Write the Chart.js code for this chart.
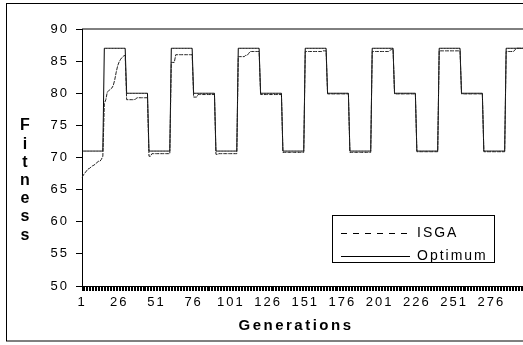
<!DOCTYPE html>
<html>
<head>
<meta charset="utf-8">
<script src="https://cdn.jsdelivr.net/npm/chart.js@4"></script>
<style>
html, body { margin: 0; padding: 0; background: #fff; overflow: hidden; }
#wrap { width: 540px; height: 345px; }
</style>
</head>
<body>
<div id="wrap"><canvas id="fitnessChart"></canvas></div>
<script>
// generations 1..300, labelled every 25
const generations = Array.from({ length: 300 }, (_, i) => i + 1);
const tickLabels = [1, 26, 51, 76, 101, 126, 151, 176, 201, 226, 251, 276];

const optimum = [
  71,71,71,71,71,71,71,71,71,71,71,71,71,71,71,
  87,87,87,87,87,87,87,87,87,87,87,87,87,87,87,
  80,80,80,80,80,80,80,80,80,80,80,80,80,80,80,
  71,71,71,71,71,71,71,71,71,71,71,71,71,71,71,
  87,87,87,87,87,87,87,87,87,87,87,87,87,87,87,
  80,80,80,80,80,80,80,80,80,80,80,80,80,80,80,
  71,71,71,71,71,71,71,71,71,71,71,71,71,71,71,
  87,87,87,87,87,87,87,87,87,87,87,87,87,87,87,
  80,80,80,80,80,80,80,80,80,80,80,80,80,80,80,
  71,71,71,71,71,71,71,71,71,71,71,71,71,71,71,
  87,87,87,87,87,87,87,87,87,87,87,87,87,87,87,
  80,80,80,80,80,80,80,80,80,80,80,80,80,80,80,
  71,71,71,71,71,71,71,71,71,71,71,71,71,71,71,
  87,87,87,87,87,87,87,87,87,87,87,87,87,87,87,
  80,80,80,80,80,80,80,80,80,80,80,80,80,80,80,
  71,71,71,71,71,71,71,71,71,71,71,71,71,71,71,
  87,87,87,87,87,87,87,87,87,87,87,87,87,87,87,
  80,80,80,80,80,80,80,80,80,80,80,80,80,80,80,
  71,71,71,71,71,71,71,71,71,71,71,71,71,71,71,
  87,87,87,87,87,87,87,87,87,87,87,87,87,87,87
];

const isga = [
  66.9,67.3,67.6,67.9,68.2,68.3,68.5,68.7,68.8,69.0,69.2,69.4,69.4,69.7,70.2,
  78.4,79.0,80.2,80.4,80.6,80.8,81.2,82.1,83.3,84.3,84.9,85.3,85.6,85.8,85.9,
  79.0,79.0,79.0,79.0,79.0,79.0,79.1,79.3,79.3,79.3,79.3,79.3,79.3,79.3,79.3,
  70.2,70.2,70.6,70.6,70.6,70.6,70.6,70.6,70.6,70.6,70.6,70.6,70.6,70.6,70.6,
  84.8,84.8,84.8,86.0,86.0,86.0,86.0,86.0,86.0,86.0,86.0,86.0,86.0,86.0,86.0,
  79.4,79.4,79.4,79.8,79.8,79.8,79.8,79.8,79.8,79.8,79.8,79.8,79.8,79.8,79.8,
  70.5,70.5,70.6,70.6,70.6,70.6,70.6,70.6,70.6,70.6,70.6,70.6,70.6,70.6,70.6,
  85.7,85.7,85.7,85.7,85.7,85.9,85.9,86.2,86.5,86.5,86.5,86.5,86.5,86.5,86.5,
  79.8,79.8,79.8,79.8,79.8,79.8,79.8,79.8,79.8,79.8,79.8,79.8,79.8,79.8,79.8,
  70.8,70.8,70.8,70.8,70.8,70.8,70.8,70.8,70.8,70.8,70.8,70.8,70.8,70.8,70.8,
  86.5,86.5,86.5,86.5,86.5,86.5,86.5,86.5,86.5,86.5,86.5,86.5,86.6,86.6,86.6,
  79.9,79.9,79.9,79.9,79.9,79.9,79.9,79.9,79.9,79.9,79.9,79.9,79.9,79.9,79.9,
  70.8,70.8,70.8,70.8,70.8,70.8,70.8,70.8,70.8,70.8,70.8,70.8,70.8,70.8,70.8,
  86.5,86.5,86.5,86.5,86.5,86.5,86.5,86.5,86.5,86.5,86.5,86.5,86.7,86.8,86.9,
  79.9,79.9,79.9,79.9,79.9,79.9,79.9,79.9,79.9,79.9,79.9,79.9,79.9,79.9,79.9,
  70.9,70.9,70.9,70.9,70.9,70.9,70.9,70.9,70.9,70.9,70.9,70.9,70.9,70.9,70.9,
  86.6,86.6,86.6,86.6,86.6,86.6,86.6,86.6,86.6,86.6,86.6,86.6,86.6,86.6,86.6,
  79.9,79.9,79.9,79.9,79.9,79.9,79.9,79.9,79.9,79.9,79.9,79.9,79.9,79.9,79.9,
  70.9,70.9,70.9,70.9,70.9,70.9,70.9,70.9,70.9,70.9,70.9,70.9,70.9,70.9,70.9,
  86.5,86.5,86.5,86.5,86.5,86.5,86.8,87.0,87.0,87.0,87.0,87.0,87.0,87.0,87.0
];

const FONT = "'Liberation Sans', Arial, sans-serif";

// frame, plot border, axis titles and legend placement
const excelLook = {
  id: 'excelLook',
  beforeDraw(chart) {
    chart.ctx.letterSpacing = '2px';
  },
  afterLayout(chart) {
    const lg = chart.legend, a = chart.chartArea;
    lg.left = a.left + 250;
    lg.top = a.top + 181;
    lg.right = lg.left + 175;
    lg.bottom = lg.top + 70;
  },
  afterDraw(chart) {
    const ctx = chart.ctx, a = chart.chartArea;
    ctx.save();
    ctx.strokeStyle = '#000';
    ctx.lineWidth = 1;
    ctx.strokeRect(6.5, 3.5, 700, 337.5);
    ctx.beginPath();
    ctx.moveTo(a.left, a.top);
    ctx.lineTo(a.right + 20, a.top);
    ctx.stroke();
    // legend frame
    ctx.strokeRect(a.left + 250.5, a.top + 186.5, 162, 47);

    ctx.fillStyle = '#000';
    ctx.textAlign = 'center';
    ctx.textBaseline = 'middle';
    ctx.font = 'bold 15px ' + FONT;
    ctx.letterSpacing = '2.5px';
    ctx.fillText('Generations', 296, 326);
    ctx.letterSpacing = '0px';
    ctx.font = 'bold 16px ' + FONT;
    'Fitness'.split('').forEach((ch, i) => ctx.fillText(ch, 25, 126 + i * 18.2));
    ctx.restore();
  }
};

new Chart(document.getElementById('fitnessChart'), {
  type: 'line',
  data: {
    labels: generations,
    datasets: [
      { label: 'ISGA', data: isga, borderColor: '#222', borderWidth: 1, borderDash: [4, 1], pointRadius: 0, tension: 0 },
      { label: 'Optimum', data: optimum, borderColor: '#000', borderWidth: 1, pointRadius: 0, tension: 0 }
    ]
  },
  options: {
    responsive: true,
    maintainAspectRatio: false,
    animation: false,
    layout: { padding: { left: 6, top: 29, right: 13, bottom: 0 } },
    plugins: {
      tooltip: { enabled: false },
      legend: {
        position: 'chartArea',
        labels: {
          usePointStyle: true,
          pointStyleWidth: 69,
          padding: 9,
          color: '#000',
          font: { family: FONT, size: 14 },
          generateLabels(chart) {
            return chart.data.datasets.map((ds, i) => ({
              text: ds.label,
              pointStyle: 'line',
              strokeStyle: '#000',
              fillStyle: 'transparent',
              lineWidth: 1,
              lineDash: ds.label === 'ISGA' ? [6, 6] : [],
              datasetIndex: i,
              hidden: false
            }));
          }
        }
      }
    },
    scales: {
      x: {
        ticks: {
          autoSkip: false, maxRotation: 0, minRotation: 0, padding: 4,
          color: '#000', font: { family: FONT, size: 13 },
          callback(v, i) { return tickLabels.includes(generations[i]) ? String(generations[i]) : ''; }
        },
        grid: { drawOnChartArea: false, tickLength: 5, color: '#000' },
        border: { color: '#000' },
        afterFit(s) { s.height = 59; }
      },
      y: {
        min: 50, max: 90,
        ticks: { stepSize: 5, padding: 7, color: '#000', font: { family: FONT, size: 13 } },
        grid: { drawOnChartArea: false, tickLength: 6, color: '#000' },
        border: { color: '#000' },
        afterFit(s) { s.width = 76; }
      }
    }
  },
  plugins: [excelLook]
});
</script>
</body>
</html>
